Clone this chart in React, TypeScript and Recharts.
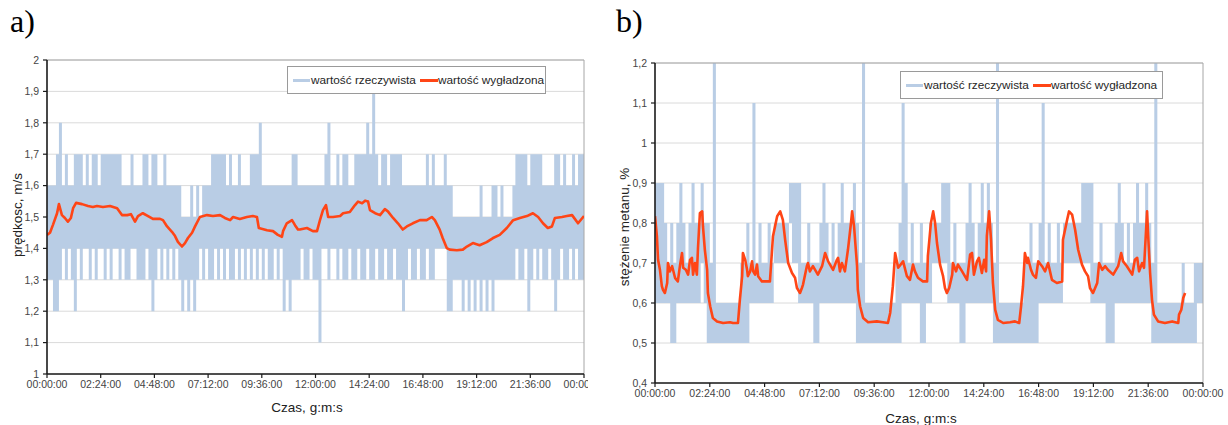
import React from "react";
import { ComposedChart, Line, Area, XAxis, YAxis, CartesianGrid, ReferenceLine } from "recharts";

// ---------- shared axis / label data ----------
const timeTicks = [0, 144, 288, 432, 576, 720, 864, 1008, 1152, 1296, 1440];
const timeTickLabels = ["00:00:00", "02:24:00", "04:48:00", "07:12:00", "09:36:00", "12:00:00", "14:24:00", "16:48:00", "19:12:00", "21:36:00", "00:00:00"];
const speedTicks = [1, 1.1, 1.2, 1.3, 1.4, 1.5, 1.6, 1.7, 1.8, 1.9, 2];
const methaneTicks = [0.4, 0.5, 0.6, 0.7, 0.8, 0.9, 1, 1.1, 1.2];
const legendLabels = ["wartość rzeczywista", "wartość wygładzona"];
const panelTitles = ["a)", "b)"];
const xAxisTitle = "Czas, g:m:s";
const yAxisTitles = ["prędkosc, m/s", "stężenie metanu, %"];

// raw series: 8-minute bins, highest and lowest reading in each bin (tenths)
const binMinutes = 8;

const rawHighA = [
  16,16,16,17,18,16,17,16,16,17, 17,17,16,17,16,17,17,16,17,17,
  17,17,17,17,17,16,16,16,17,16, 16,16,17,17,16,17,17,16,16,17,
  16,16,16,16,16,15,15,15,16,15, 16,15,16,16,16,17,17,17,17,17,
  16,17,16,16,17,16,16,16,17,17, 17,18,16,16,16,16,16,16,16,16,
  16,16,17,17,16,16,16,16,16,16, 16,16,16,17,18,16,16,17,16,17,
  17,16,16,17,17,17,17,18,17,19, 17,16,17,17,16,17,17,17,17,16,
  16,16,16,16,16,16,16,17,16,17, 16,16,16,17,16,16,15,15,15,15,
  15,15,15,15,15,16,15,15,15,16, 16,15,16,15,15,15,16,17,17,17,
  17,16,17,17,17,17,16,16,16,16, 17,17,16,17,16,16,17,16,17,17,
];
const rawLowA = [
  13,13,12,12,13,14,13,14,13,12, 14,13,14,14,13,14,13,14,14,13,
  14,13,14,14,13,14,13,13,14,14, 13,13,13,14,13,12,13,14,13,14,
  13,14,13,14,13,12,13,12,13,12, 13,14,13,14,13,13,14,13,14,13,
  14,13,13,14,13,14,13,14,13,14, 13,14,13,14,13,13,14,13,14,12,
  13,12,13,13,13,14,13,13,14,13, 13,11,14,14,13,14,14,13,14,13,
  13,14,13,13,14,13,13,14,13,13, 14,13,13,14,13,13,14,13,13,12,
  13,14,13,13,14,13,13,14,13,13, 14,14,14,14,12,12,13,13,13,12,
  13,12,13,12,13,12,13,12,13,12, 13,13,13,13,13,13,13,14,13,13,
  14,12,13,14,13,14,13,13,14,13, 12,13,14,13,13,14,13,14,13,13,
];

const rawHighB = [
  9,9,9,8,7,8,7,8,9,8, 7,8,9,8,8,9,8,8,7,12,
  6,6,6,6,6,6,6,6,7,7, 8,7,11,7,8,7,7,8,7,8,
  8,8,8,8,9,9,9,9,7,7, 8,7,7,7,8,9,8,7,8,7,
  8,9,8,8,8,9,8,7,12,6, 6,6,6,6,6,6,6,6,6,7,
  8,11,9,7,8,7,7,8,7,7, 8,8,8,8,9,9,9,7,8,7,
  7,7,8,9,8,7,8,9,8,9, 8,7,12,6,6,6,6,6,6,6,
  6,7,7,8,7,7,8,11,7,8, 7,7,8,7,8,8,8,8,8,8,
  9,9,9,9,7,7,8,7,7,7, 7,8,9,8,7,8,7,8,9,8,
  8,9,8,7,12,6,6,6,6,6, 6,6,6,7,6,6,6,7,7,7,
];
const rawLowB = [
  6,6,6,6,6,5,5,6,6,6, 6,6,6,6,6,7,6,5,5,5,
  5,5,5,5,5,5,5,5,5,5, 5,6,6,6,6,6,6,6,6,7,
  7,7,7,7,8,7,7,6,6,6, 6,6,5,5,6,6,6,6,6,6,
  6,6,6,6,6,6,5,5,5,5, 5,5,5,5,5,5,5,5,5,5,
  5,6,6,6,6,6,6,5,5,6, 6,7,7,7,7,7,6,6,6,6,
  5,5,6,6,6,6,6,6,6,6, 6,5,5,5,5,5,5,5,5,5,
  5,5,5,5,5,5,6,6,6,6, 6,6,6,6,7,7,7,7,7,7,
  7,7,7,6,6,6,6,6,5,5, 5,6,6,6,6,6,6,6,6,6,
  6,6,6,5,5,5,5,5,5,5, 5,5,5,5,5,5,5,5,6,6,
];

// smoothed series (minutes, value)
const smoothTimeA = [
  0,8,16,27,32,40,48,56,64,70, 78,94,110,123,134,150,169,188,201,215,
  225,236,244,257,271,284,303,311,322,335, 343,351,362,370,378,389,397,410,429,445,
  464,477,491,499,517,536,552,563,568,590, 606,619,630,633,643,657,665,673,678,697,
  713,724,732,740,748,754,767,786,794,812, 826,834,845,853,861,866,880,893,906,914,
  928,941,954,965,981,1000,1018,1032,1040,1053, 1061,1072,1080,1099,1115,1126,1142,1160,1179,1196,
  1214,1233,1250,1268,1287,1303,1317,1330,1343,1354, 1362,1381,1394,1408,1424,1440,
];
const smoothValA = [
  1.443,1.45,1.475,1.512,1.541,1.506,1.497,1.485,1.497,1.528, 1.545,1.541,1.535,1.532,1.535,1.532,1.535,1.528,1.506,1.506,
  1.509,1.485,1.503,1.512,1.503,1.494,1.494,1.49,1.47,1.453, 1.44,1.421,1.406,1.417,1.433,1.45,1.47,1.5,1.506,1.503,
  1.506,1.497,1.49,1.5,1.494,1.5,1.503,1.5,1.465,1.458, 1.455,1.443,1.437,1.455,1.48,1.49,1.474,1.46,1.46,1.465,
  1.455,1.455,1.49,1.522,1.538,1.5,1.5,1.503,1.512,1.516, 1.538,1.549,1.544,1.552,1.549,1.522,1.512,1.506,1.525,1.518,
  1.497,1.48,1.46,1.47,1.48,1.49,1.49,1.5,1.49,1.46, 1.433,1.401,1.396,1.394,1.396,1.406,1.417,1.41,1.42,1.433,
  1.443,1.465,1.49,1.497,1.503,1.512,1.5,1.48,1.465,1.47, 1.497,1.5,1.503,1.506,1.48,1.503,
];

const smoothTimeB = [
  0,5,8,13,18,21,26,32,34,39, 45,53,60,66,71,74,81,87,92,97,
  100,105,110,113,118,124,126,131,137,139, 145,152,163,179,197,205,218,223,229,231,
  237,242,244,250,255,258,263,268,271,281, 302,310,321,329,336,342,350,360,368,373,
  376,381,386,389,399,402,407,415,428,439, 447,455,468,478,481,486,491,499,507,515,
  518,523,531,533,539,547,560,583,599,612, 618,625,631,639,652,662,670,678,683,691,
  704,715,717,725,731,736,741,749,757,762, 767,773,781,783,791,796,807,820,828,833,
  838,846,851,859,865,870,872,878,883,888, 894,901,915,933,946,957,962,967,972,978,
  980,988,993,1001,1007,1017,1025,1033,1043,1056, 1070,1072,1083,1088,1096,1104,1112,1122,1130,1138,
  1143,1151,1162,1167,1175,1183,1190,1204,1217,1225, 1230,1240,1254,1261,1267,1272,1280,1285,1290,1293,
  1296,1301,1306,1311,1322,1340,1359,1375,1377,1383, 1388,1393,
];
const smoothValB = [
  0.817,0.767,0.708,0.683,0.642,0.633,0.625,0.65,0.70,0.679, 0.692,0.662,0.654,0.696,0.725,0.688,0.683,0.671,0.708,0.713,
  0.671,0.70,0.671,0.738,0.825,0.829,0.792,0.733,0.683,0.625, 0.592,0.5625,0.554,0.55,0.552,0.55,0.55,0.608,0.667,0.725,
  0.708,0.683,0.667,0.679,0.704,0.679,0.671,0.696,0.667,0.654, 0.654,0.767,0.817,0.829,0.808,0.758,0.70,0.675,0.663,0.6375,
  0.633,0.625,0.6375,0.646,0.692,0.70,0.679,0.692,0.671,0.692, 0.725,0.704,0.683,0.708,0.713,0.679,0.70,0.679,0.733,0.80,
  0.829,0.792,0.692,0.633,0.592,0.5625,0.552,0.554,0.552,0.55, 0.575,0.642,0.725,0.688,0.704,0.667,0.658,0.696,0.679,0.663,
  0.654,0.654,0.717,0.80,0.829,0.80,0.75,0.696,0.667,0.6375, 0.625,0.6375,0.671,0.70,0.679,0.696,0.679,0.658,0.721,0.725,
  0.671,0.704,0.713,0.675,0.708,0.679,0.767,0.829,0.758,0.65, 0.583,0.558,0.55,0.552,0.554,0.55,0.592,0.642,0.725,0.70,
  0.713,0.683,0.671,0.663,0.704,0.692,0.679,0.70,0.658,0.65, 0.654,0.758,0.808,0.829,0.821,0.783,0.733,0.696,0.679,0.667,
  0.6375,0.625,0.65,0.70,0.683,0.692,0.683,0.671,0.692,0.725, 0.704,0.692,0.671,0.708,0.713,0.679,0.70,0.688,0.775,0.829,
  0.767,0.675,0.608,0.571,0.554,0.55,0.554,0.55,0.571,0.583, 0.6125,0.625,
];

// ---------- styling ----------
const BLUE = "#b9cde5";
const RED = "#ff4516";
const AXIS = "#1a1a1a";
const GRID = "#dadada";
const BORDER = "#a6a6a6";
const FONT = '"Liberation Sans", Arial, sans-serif';

type RangePt = { t: number; range: [number, number] };
type Pt = { t: number; v: number };

// one point per bin, holding [lowest, highest]; a closing point ends the last bin
function buildRaw(hi: number[], lo: number[]): RangePt[] {
  const pts: RangePt[] = [];
  const n = Math.min(hi.length, lo.length);
  for (let k = 0; k < n; k++) {
    pts.push({ t: k * binMinutes, range: [lo[k] / 10, hi[k] / 10] });
  }
  if (n > 0) pts.push({ t: n * binMinutes, range: [lo[n - 1] / 10, hi[n - 1] / 10] });
  return pts;
}
function buildSmooth(ts: number[], vs: number[]): Pt[] {
  const n = Math.min(ts.length, vs.length);
  const pts: Pt[] = [];
  for (let i = 0; i < n; i++) pts.push({ t: ts[i], v: vs[i] });
  return pts;
}

const rawA = buildRaw(rawHighA, rawLowA);
const rawB = buildRaw(rawHighB, rawLowB);
const smoothA = buildSmooth(smoothTimeA, smoothValA);
const smoothB = buildSmooth(smoothTimeB, smoothValB);

const fmtComma = (v: number) => String(Math.round(v * 10) / 10).replace(".", ",");
const fmtTime = (v: number) => {
  const i = timeTicks.indexOf(v);
  return i >= 0 ? timeTickLabels[i] : "";
};

const tickStyle = { fontSize: 10.5, fill: "#454545", fontFamily: FONT };

function Panel(props: {
  width: number;
  margin: { top: number; right: number; bottom: number; left: number };
  raw: RangePt[];
  smooth: Pt[];
  domain: [number, number];
  ticks: number[];
}) {
  const { width, margin, raw, smooth, domain, ticks } = props;
  return (
    <ComposedChart width={width} height={425} margin={margin} style={{ fontFamily: FONT }}>
      <CartesianGrid vertical={false} stroke={GRID} strokeWidth={1} />
      <XAxis
        type="number"
        dataKey="t"
        domain={[0, 1440]}
        ticks={timeTicks}
        interval={0}
        tickFormatter={fmtTime}
        height={30}
        tickSize={4}
        tickMargin={3}
        axisLine={{ stroke: AXIS, strokeWidth: 1.6 }}
        tickLine={{ stroke: AXIS, strokeWidth: 1.2 }}
        tick={tickStyle}
        allowDataOverflow
      />
      <YAxis
        type="number"
        domain={domain}
        ticks={ticks}
        interval={0}
        tickFormatter={fmtComma}
        width={40}
        tickSize={4}
        tickMargin={4}
        axisLine={{ stroke: AXIS, strokeWidth: 1.6 }}
        tickLine={{ stroke: AXIS, strokeWidth: 1.2 }}
        tick={tickStyle}
        allowDataOverflow
      />
      <Area
        data={raw}
        dataKey="range"
        type="stepAfter"
        stroke="none"
        fill={BLUE}
        fillOpacity={1}
        dot={false}
        activeDot={false}
        isAnimationActive={false}
      />
      <ReferenceLine y={domain[1]} stroke={BORDER} strokeWidth={1} />
      <ReferenceLine x={1440} stroke={BORDER} strokeWidth={1} />
      <Line
        data={smooth}
        dataKey="v"
        type="linear"
        stroke={RED}
        strokeWidth={2.6}
        strokeLinejoin="round"
        dot={false}
        activeDot={false}
        isAnimationActive={false}
      />
    </ComposedChart>
  );
}

function LegendBox(props: { left: number; top: number; width: number; height: number }) {
  const { left, top, width, height } = props;
  return (
    <div
      style={{
        position: "absolute",
        left,
        top,
        width,
        height,
        boxSizing: "border-box",
        border: "1px solid #9a9a9a",
        background: "#fff",
        display: "flex",
        alignItems: "center",
        paddingLeft: 5,
        fontSize: 11.8,
        color: "#262626",
        whiteSpace: "nowrap",
        fontFamily: FONT,
      }}
    >
      <span style={{ display: "inline-block", width: 17, height: 3, background: BLUE }} />
      <span style={{ marginLeft: 1 }}>{legendLabels[0]}</span>
      <span style={{ display: "inline-block", width: 18, height: 3, background: RED, marginLeft: 4 }} />
      <span>{legendLabels[1]}</span>
    </div>
  );
}

const titleStyle: React.CSSProperties = {
  position: "absolute",
  fontFamily: '"Liberation Serif", "Times New Roman", serif',
  fontSize: 32,
  lineHeight: "32px",
  color: "#000",
};

const axisTitleStyle: React.CSSProperties = {
  position: "absolute",
  fontFamily: FONT,
  fontSize: 13.5,
  color: "#222",
  whiteSpace: "nowrap",
  transform: "translate(-50%, -50%)",
};

export default function App() {
  return (
    <div style={{ position: "relative", width: 1228, height: 425, background: "#fff", overflow: "hidden" }}>
      <style>{"body{margin:0}"}</style>

      <div style={{ position: "absolute", left: 0, top: 0 }}>
        <Panel
          width={588}
          margin={{ top: 60, right: 4, bottom: 21, left: 7 }}
          raw={rawA}
          smooth={smoothA}
          domain={[1, 2]}
          ticks={speedTicks}
        />
      </div>
      <div style={{ position: "absolute", left: 600, top: 0 }}>
        <Panel
          width={628}
          margin={{ top: 63, right: 25, bottom: 12, left: 15 }}
          raw={rawB}
          smooth={smoothB}
          domain={[0.4, 1.2]}
          ticks={methaneTicks}
        />
      </div>

      <LegendBox left={287} top={66} width={259} height={28} />
      <LegendBox left={900} top={71} width={263} height={28} />

      <div style={{ ...titleStyle, left: 10, top: 5 }}>{panelTitles[0]}</div>
      <div style={{ ...titleStyle, left: 616, top: 5 }}>{panelTitles[1]}</div>

      <div style={{ ...axisTitleStyle, left: 307, top: 407 }}>{xAxisTitle}</div>
      <div style={{ ...axisTitleStyle, left: 921, top: 418 }}>{xAxisTitle}</div>

      <div style={{ ...axisTitleStyle, left: 17, top: 215, transform: "translate(-50%, -50%) rotate(-90deg)" }}>
        {yAxisTitles[0]}
      </div>
      <div style={{ ...axisTitleStyle, left: 624, top: 227, transform: "translate(-50%, -50%) rotate(-90deg)" }}>
        {yAxisTitles[1]}
      </div>
    </div>
  );
}
